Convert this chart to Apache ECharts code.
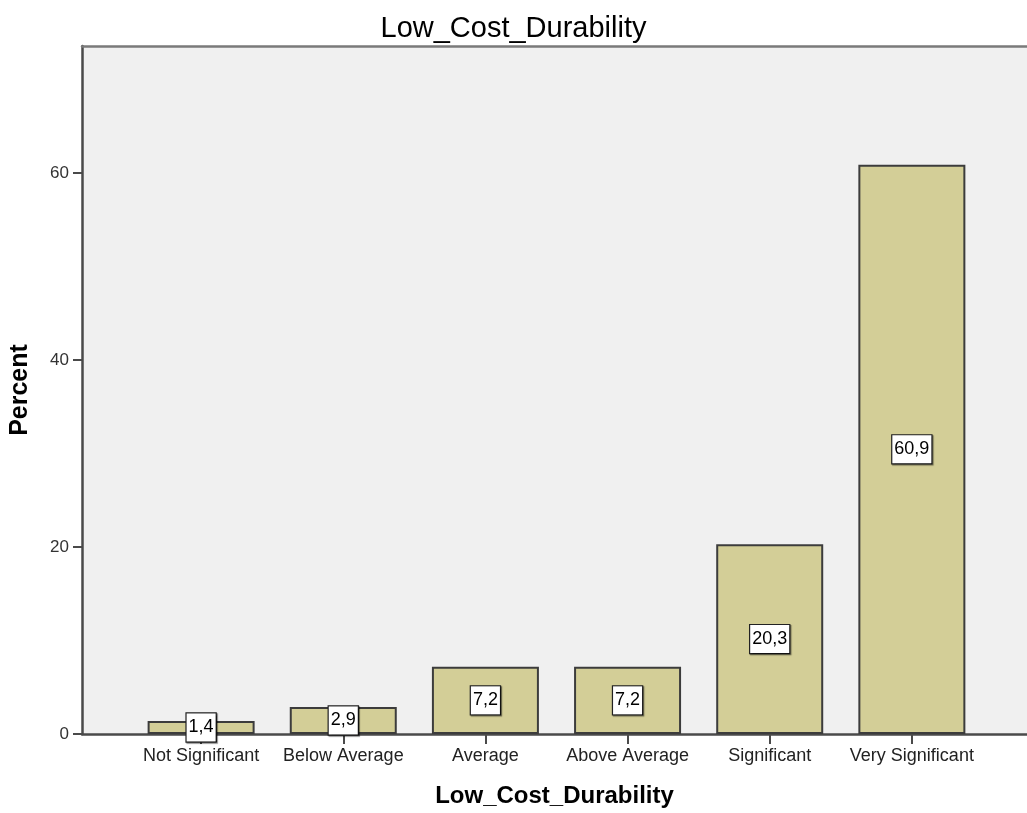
<!DOCTYPE html>
<html>
<head>
<meta charset="utf-8">
<script src="https://cdn.jsdelivr.net/npm/echarts@6/dist/echarts.min.js"></script>
<style>
  html, body { margin: 0; padding: 0; background: #ffffff; }
  #chart { width: 1027px; height: 813px; }
</style>
</head>
<body>
<div id="chart"></div>
<script>
// Response categories and their share of respondents (percent)
const categories = ['Not Significant', 'Below Average', 'Average', 'Above Average', 'Significant', 'Very Significant'];
const percents = [1.4, 2.9, 7.2, 7.2, 20.3, 60.9];
const yTicks = [0, 20, 40, 60];

const FONT = 'Arial, "Liberation Sans", sans-serif';
const positions = categories.map((c, i) => i + 1);

const chart = echarts.init(document.getElementById('chart'), null, { renderer: 'canvas' });

chart.setOption({
  animation: false,
  backgroundColor: '#ffffff',
  title: {
    text: 'Low_Cost_Durability',
    left: 'center',
    top: 9,
    textStyle: { fontFamily: FONT, fontSize: 29, fontWeight: 'normal', color: '#000' }
  },
  grid: {
    left: 81, right: 0, top: 46, bottom: 77,
    show: true, backgroundColor: '#f0f0f0', borderWidth: 0
  },
  xAxis: [{
    type: 'value',
    min: 0.162,
    max: 6.81,
    splitLine: { show: false },
    axisLine: { show: true, lineStyle: { color: '#4a4a4a', width: 2.5 } },
    axisTick: { show: true, customValues: positions, length: 10, lineStyle: { color: '#4a4a4a', width: 2 } },
    axisLabel: {
      customValues: positions,
      margin: 13,
      fontFamily: FONT, fontSize: 18, color: '#222',
      formatter: v => categories[Math.round(v) - 1] || ''
    },
    name: 'Low_Cost_Durability',
    nameLocation: 'middle',
    nameGap: 50,
    nameTextStyle: { fontFamily: FONT, fontSize: 24, fontWeight: 'bold', color: '#000' }
  }, {
    type: 'value',
    position: 'top',
    min: 0.162,
    max: 6.81,
    splitLine: { show: false },
    axisLine: { show: true, lineStyle: { color: '#7a7a7a', width: 2.5 } },
    axisTick: { show: false },
    axisLabel: { show: false }
  }],
  yAxis: {
    type: 'value',
    min: 0,
    max: 73.6,
    splitLine: { show: false },
    axisLine: { show: true, lineStyle: { color: '#4a4a4a', width: 2.5 } },
    axisTick: { show: true, customValues: yTicks, length: 9, lineStyle: { color: '#4a4a4a', width: 2 } },
    axisLabel: {
      customValues: yTicks,
      margin: 13,
      fontFamily: FONT, fontSize: 17, color: '#333'
    },
    name: 'Percent',
    nameLocation: 'middle',
    nameGap: 49,
    nameTextStyle: { fontFamily: FONT, fontSize: 25, fontWeight: 'bold', color: '#000' }
  },
  series: [{
    type: 'bar',
    xAxisIndex: 0,
    barWidth: 107,
    data: percents.map((v, i) => [positions[i], v]),
    itemStyle: { color: '#d3ce97', borderColor: '#3c3c3c', borderWidth: 2 },
    label: {
      show: true,
      position: 'inside',
      formatter: p => p.value[1].toFixed(1).replace('.', ','),
      fontFamily: FONT, fontSize: 18, color: '#000',
      backgroundColor: '#ffffff',
      borderColor: '#222',
      borderWidth: 1.2,
      padding: [5, 2, 5, 2],
      shadowColor: 'rgba(0,0,0,0.5)',
      shadowOffsetX: 1,
      shadowOffsetY: 1,
      shadowBlur: 1
    }
  }]
});
</script>
</body>
</html>
